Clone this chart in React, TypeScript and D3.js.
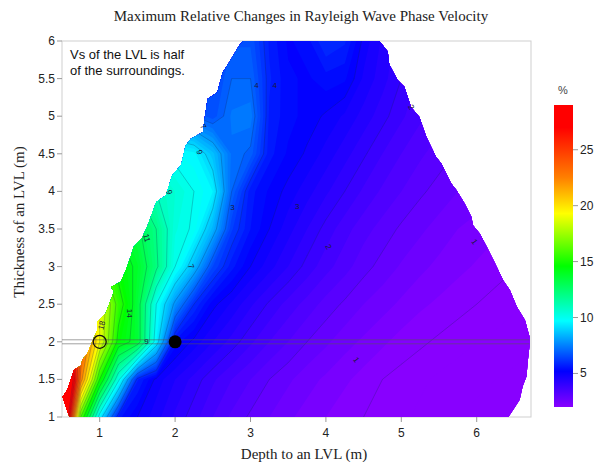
import React from "react";
import * as d3 from "d3";

// grid of the contoured field: depth (x) by thickness (y), values in %
const depthGrid = [0.5, 0.75, 1, 1.25, 1.5, 1.75, 2, 2.25, 2.5, 2.75, 3, 3.25, 3.5, 3.75, 4, 4.25, 4.5, 4.75, 5, 5.25, 5.5, 5.75, 6, 6.25, 6.5, 6.75, 7];
const thicknessGrid = [1, 1.5, 2, 2.5, 3, 3.5, 4, 4.5, 5, 5.5, 6];

const rowT10 = [34, 16, 9.5, 5.6, 5.0, 4.6, 4.2, 3.85, 3.5, 3.2, 2.95, 2.75, 2.55, 2.4, 2.25, 2.1, 2.0, 1.9, 1.8, 1.7, 1.6, 1.5, 1.45, 1.4, 1.35, 1.3, 1.25];
const rowT15 = [36, 22.5, 15, 10.2, 5.8, 4.9, 4.5, 4.15, 3.8, 3.5, 3.25, 3.0, 2.8, 2.6, 2.45, 2.3, 2.15, 2.0, 1.9, 1.8, 1.7, 1.62, 1.55, 1.5, 1.45, 1.4, 1.35];
const rowT20 = [30, 24, 19, 14.6, 13.6, 9.5, 5.4, 4.9, 4.5, 4.15, 3.8, 3.5, 3.25, 3.0, 2.8, 2.6, 2.45, 2.3, 2.15, 2.05, 1.95, 1.85, 1.75, 1.68, 1.6, 1.55, 1.5];
const rowT25 = [26, 22, 19, 15.5, 13.5, 10.0, 7.8, 6.0, 5.1, 4.7, 4.3, 3.95, 3.65, 3.4, 3.15, 2.95, 2.75, 2.6, 2.45, 2.3, 2.2, 2.1, 2.0, 1.9, 1.8, 1.72, 1.65];
const rowT30 = [20, 18, 16.5, 14.6, 13.8, 12.2, 10.0, 8.5, 6.5, 5.6, 5.0, 4.6, 4.25, 3.9, 3.6, 3.35, 3.1, 2.9, 2.72, 2.57, 2.43, 2.32, 2.22, 2.12, 2.02, 1.94, 1.86];
const rowT35 = [16, 15, 14.6, 14, 13.2, 12.0, 10.3, 9.9, 8.4, 6.3, 5.5, 5.0, 4.6, 4.25, 3.9, 3.6, 3.35, 3.15, 2.95, 2.8, 2.65, 2.5, 2.4, 2.3, 2.2, 2.1, 2.05];
const rowT40 = [14, 13.5, 13, 12.5, 12, 11, 10.5, 10, 9.5, 7.0, 5.6, 5.2, 4.9, 4.6, 4.3, 4.0, 3.7, 3.45, 3.25, 3.05, 2.9, 2.75, 2.65, 2.55, 2.45, 2.35, 2.25];
const rowT45 = [12, 12, 11.5, 11, 10.5, 10.2, 9.8, 9.6, 8.6, 7.2, 6.9, 5.6, 5.2, 4.95, 4.65, 4.35, 4.05, 3.75, 3.5, 3.3, 3.12, 2.97, 2.85, 2.75, 2.65, 2.55, 2.45];
const rowT50 = [9, 9, 9, 8.8, 8.4, 8.0, 7.5, 7.0, 6.6, 7.3, 7.4, 5.7, 5.35, 5.15, 4.95, 4.7, 4.4, 4.1, 3.8, 3.55, 3.38, 3.22, 3.08, 2.96, 2.85, 2.75, 2.65];
const rowT55 = [8, 8, 8, 7.8, 7.5, 7.2, 6.9, 6.6, 6.4, 7.0, 7.0, 5.8, 5.3, 5.2, 5.4, 5.3, 4.7, 4.35, 4.0, 3.7, 3.5, 3.35, 3.2, 3.08, 2.96, 2.85, 2.75];
const rowT60 = [7.5, 7.5, 7.5, 7.3, 7.1, 6.9, 6.7, 6.5, 6.4, 6.7, 6.7, 5.7, 5.2, 5.4, 6.0, 5.8, 4.9, 4.45, 4.1, 3.8, 3.6, 3.45, 3.3, 3.18, 3.05, 2.95, 2.85];
const fieldRows = [rowT10, rowT15, rowT20, rowT25, rowT30, rowT35, rowT40, rowT45, rowT50, rowT55, rowT60];

// outline of the computed region (depth, thickness)
const edgeDepth = [0.6, 0.55, 0.51, 0.57, 0.6, 0.66, 0.75, 0.77, 0.84, 0.9, 0.97, 0.97, 1.08, 1.13, 1.19, 1.15, 1.28, 1.35, 1.41, 1.45, 1.56, 1.63, 1.75, 1.88, 1.96, 2.08, 2.14, 2.21, 2.37, 2.39, 2.43, 2.56, 2.63, 2.72, 2.85, 2.9,
  4.71, 4.82, 4.84, 4.95, 5.04, 5.13, 5.24, 5.33, 5.46, 5.53, 5.66, 5.73, 5.84, 5.93, 5.95, 6.04, 6.13, 6.24, 6.35, 6.44, 6.53, 6.64, 6.7, 6.7, 6.68, 6.66, 6.61, 6.57, 6.48, 6.42];
const edgeThick = [1.0, 1.14, 1.27, 1.36, 1.45, 1.63, 1.68, 1.76, 1.85, 2.0, 2.16, 2.27, 2.38, 2.51, 2.67, 2.73, 2.8, 2.96, 3.13, 3.26, 3.38, 3.53, 3.86, 3.95, 4.21, 4.35, 4.61, 4.7, 4.79, 4.96, 5.23, 5.32, 5.58, 5.72, 5.94, 6.0,
  6.0, 5.86, 5.69, 5.48, 5.39, 5.12, 4.99, 4.73, 4.46, 4.37, 4.11, 4.02, 3.84, 3.66, 3.55, 3.44, 3.27, 3.05, 2.82, 2.69, 2.47, 2.29, 2.07, 1.94, 1.76, 1.54, 1.41, 1.23, 1.09, 1.0];

const xTicks = [1, 2, 3, 4, 5, 6];
const yTicks = [1, 1.5, 2, 2.5, 3, 3.5, 4, 4.5, 5, 5.5, 6];
const barTicks = [5, 10, 15, 20, 25];
const colorStops = [2, 5.2, 7.5, 9.7, 14.6, 19.3, 22.5, 27, 29];
const colorHex = ["#8800ff", "#0000ff", "#0080ff", "#00ffff", "#00ff00", "#ffff00", "#ff8000", "#ff0000", "#ff0000"];

const labelText = ["18", "14", "11", "9", "9", "7", "7", "9", "4", "4", "3", "3", "2", "2", "1", "1"];
const labelDepth = [1.03, 1.39, 1.62, 1.92, 2.32, 2.37, 2.21, 1.62, 3.08, 3.32, 2.76, 3.62, 4.03, 5.13, 4.4, 5.97];
const labelThick = [2.22, 2.38, 3.38, 3.99, 4.52, 4.86, 3.0, 2.0, 5.41, 5.41, 3.79, 3.8, 3.26, 5.12, 1.76, 3.33];
const labelAngle = [-75, 90, 75, 70, 70, 60, 70, 0, 0, 0, 0, 0, 60, 60, 55, 55];

const W = 602;
const H = 462;

export default function App() {
  const x = d3.scaleLinear().domain([0.5, 6.72]).range([62, 531]);
  const y = d3.scaleLinear().domain([1, 6]).range([417, 41]);
  const color = d3.scaleLinear<string>().domain(colorStops).range(colorHex).clamp(true);
  const bar = d3.scaleLinear().domain([2, 29]).range([407, 105]);

  const n = depthGrid.length;
  const m = thicknessGrid.length;
  const values = fieldRows.flat();
  const gx = d3.scaleLinear().domain([0.5, n - 0.5]).range([depthGrid[0], depthGrid[n - 1]]);
  const gy = d3.scaleLinear().domain([0.5, m - 0.5]).range([thicknessGrid[0], thicknessGrid[m - 1]]);
  const proj = d3.geoTransform({
    point: function (px: number, py: number) {
      this.stream.point(x(gx(px)), y(gy(py)));
    },
  });
  const path = d3.geoPath(proj);

  const bands = d3.contours().size([n, m]).thresholds(d3.range(0, 36.01, 0.25))(values);
  const lines = d3.contours().size([n, m]).thresholds(d3.range(2, 29, 1))(values);

  const edge = d3.line<number>().x((d) => x(d)).y((d, i) => y(edgeThick[i]));
  const outline = edge(edgeDepth) + "Z";

  const sans = "'Liberation Sans', Arial, sans-serif";
  const serif = "'Liberation Serif', 'Times New Roman', serif";

  return (
    <svg width={W} height={H} style={{ position: "absolute", left: 0, top: 0, background: "#fff" }}>
      <defs>
        <clipPath id="region">
          <path d={outline} />
        </clipPath>
        <linearGradient id="barFill" x1="0" y1="1" x2="0" y2="0">
          {colorStops.map((v, i) => (
            <stop key={i} offset={(v - 2) / 27} stopColor={colorHex[i]} />
          ))}
        </linearGradient>
      </defs>

      <text x={301} y={21} textAnchor="middle" fontFamily={serif} fontSize={15} fill="#222">
        Maximum Relative Changes in Rayleigh Wave Phase Velocity
      </text>

      <rect x={x(0.5)} y={y(6)} width={x(6.72) - x(0.5)} height={y(1) - y(6)} fill="#fff" stroke="#cfcfcf" strokeWidth={1} />

      <g clipPath="url(#region)">
        {bands.map((b, i) => (
          <path key={i} d={path(b) || ""} fill={color(b.value + 0.125)} stroke="none" />
        ))}
        {lines.map((l, i) => (
          <path key={i} d={path(l) || ""} fill="none" stroke="#10204a" strokeOpacity={0.4} strokeWidth={0.6} />
        ))}
      </g>

      {/* reference line at 2 m thickness */}
      <line x1={x(0.5)} x2={x(6.7)} y1={y(2) - 2} y2={y(2) - 2} stroke="#555" strokeWidth={0.7} strokeOpacity={0.8} />
      <line x1={x(0.5)} x2={x(6.7)} y1={y(2) + 2} y2={y(2) + 2} stroke="#555" strokeWidth={0.7} strokeOpacity={0.8} />

      {labelText.map((t, i) => (
        <text key={i} x={x(labelDepth[i])} y={y(labelThick[i])} fontFamily={sans} fontSize={8} fill="#1a1a3a"
          textAnchor="middle" dominantBaseline="central"
          transform={`rotate(${labelAngle[i]} ${x(labelDepth[i])} ${y(labelThick[i])})`}>
          {t}
        </text>
      ))}

      <circle cx={x(1)} cy={y(2)} r={6.5} fill="none" stroke="#111" strokeWidth={1.3} />
      <circle cx={x(2)} cy={y(2)} r={6.5} fill="#000" />

      <text x={70} y={59} fontFamily={sans} fontSize={13} fill="#111">Vs of the LVL is half</text>
      <text x={70} y={75} fontFamily={sans} fontSize={13} fill="#111">of the surroundings.</text>

      {yTicks.map((t) => (
        <g key={t}>
          <line x1={57} x2={62} y1={y(t)} y2={y(t)} stroke="#999" />
          <text x={55} y={y(t)} textAnchor="end" dominantBaseline="central" fontFamily={sans} fontSize={12} fill="#222">
            {t}
          </text>
        </g>
      ))}
      {xTicks.map((t) => (
        <g key={t}>
          <line x1={x(t)} x2={x(t)} y1={417} y2={422} stroke="#999" />
          <text x={x(t)} y={437} textAnchor="middle" fontFamily={sans} fontSize={12} fill="#222">
            {t}
          </text>
        </g>
      ))}

      <text x={304} y={459} textAnchor="middle" fontFamily={serif} fontSize={15} fill="#222">
        Depth to an LVL (m)
      </text>
      <text transform={`translate(24 222) rotate(-90)`} textAnchor="middle" fontFamily={serif} fontSize={15} fill="#222">
        Thickness of an LVL (m)
      </text>

      <rect x={554} y={bar(29)} width={19} height={bar(2) - bar(29)} fill="url(#barFill)" />
      {barTicks.map((t) => (
        <g key={t}>
          <line x1={573} x2={578} y1={bar(t)} y2={bar(t)} stroke="#999" />
          <text x={580} y={bar(t)} dominantBaseline="central" fontFamily={sans} fontSize={12} fill="#222">
            {t}
          </text>
        </g>
      ))}
      <text x={563} y={94} textAnchor="middle" fontFamily={sans} fontSize={11} fill="#444">%</text>
    </svg>
  );
}
